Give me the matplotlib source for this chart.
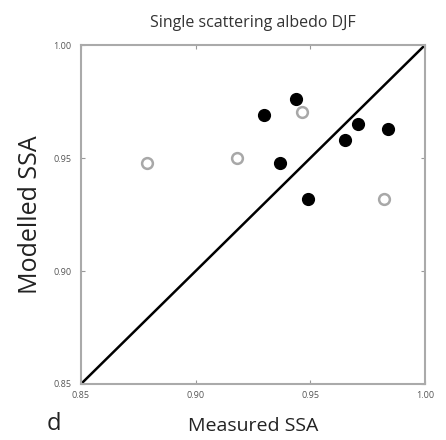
import matplotlib
matplotlib.use("Agg")
import matplotlib.pyplot as plt

# DJF single scattering albedo: measured vs modelled
measured_filled = [0.930, 0.944, 0.971, 0.984, 0.965, 0.937, 0.949]
modelled_filled = [0.969, 0.976, 0.965, 0.963, 0.958, 0.948, 0.932]
measured_open = [0.879, 0.918, 0.9465, 0.982]
modelled_open = [0.948, 0.950, 0.9705, 0.932]
ticks = [0.85, 0.90, 0.95, 1.00]
tick_labels = ["0.85", "0.90", "0.95", "1.00"]

plt.rcParams["font.family"] = ["Open Sans", "DejaVu Sans"]

fig = plt.figure(figsize=(4.46, 4.40), dpi=100)
ax = fig.add_axes([0.1816, 0.1273, 0.771, 0.770])

ax.plot([0.85, 1.00], [0.85, 1.00], color="black", lw=1.8, zorder=1)
ax.scatter(measured_filled, modelled_filled, s=72, color="black", zorder=3)
ax.scatter(measured_open, modelled_open, s=60, facecolor="white",
           edgecolor="#a8a8a8", linewidth=1.8, zorder=3)

ax.set_xlim(0.85, 1.00)
ax.set_ylim(0.85, 1.00)
ax.set_xticks(ticks)
ax.set_xticklabels(tick_labels)
ax.set_yticks(ticks)
ax.set_yticklabels(tick_labels)
ax.tick_params(direction="in", length=3, width=0.8, color="#999999",
               labelsize=6.5, labelcolor="#555555", top=True, right=True)
ax.tick_params(axis="x", pad=5)
ax.tick_params(axis="y", pad=7)
for sp in ax.spines.values():
    sp.set_color("#aaaaaa")
    sp.set_linewidth(1.5)

ax.set_title("Single scattering albedo DJF", fontsize=11.5, color="#333333", pad=13)
ax.set_xlabel("Measured SSA", fontsize=14, color="#222222", labelpad=12)
ax.set_ylabel("Modelled SSA", fontsize=18, color="#222222", labelpad=7)
fig.text(0.105, 0.022, "d", fontsize=17, color="#222222")

fig.savefig("out.png", dpi=100)
